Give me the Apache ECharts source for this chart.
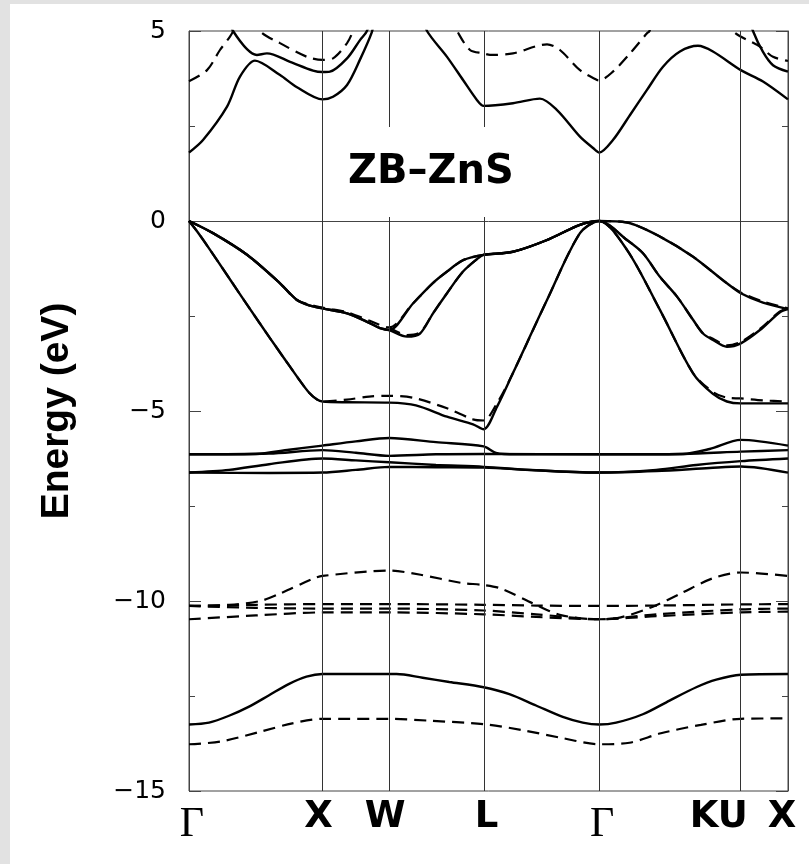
<!DOCTYPE html>
<html><head><meta charset="utf-8">
<script src="https://cdn.jsdelivr.net/npm/echarts@6/dist/echarts.min.js"></script>
<style>html,body{margin:0;padding:0;background:#fff}#c{width:809px;height:864px}</style>
</head><body><div id="c"></div>
<script>
// high-symmetry points (path length, units of 2π/a)
var kPoints = [0, 1, 1.5, 2.2071, 3.0731, 4.1338, 4.4874];
var kLabels = ['Γ', 'X', 'W', 'L', 'Γ', 'KU', 'X'];
var yTicks = [-15, -10, -5, 0, 5];

// ---- solid bands ----
var vbA = [[0,0],[0.18,-0.32],[0.435,-0.89],[0.682,-1.64],[0.809,-2.08],[0.9,-2.22],[1,-2.3],[1.184,-2.43],[1.35,-2.68],[1.431,-2.82],[1.5,-2.87],[1.678,-2.17],[1.825,-1.64],[1.933,-1.33],[2.053,-1.03],[2.207,-0.89],[2.427,-0.81],[2.682,-0.5],[2.929,-0.1],[3.073,0],[3.281,-0.04],[3.528,-0.41],[3.776,-0.94],[4.03,-1.64],[4.134,-1.9],[4.3,-2.15],[4.487,-2.32]];
var vbB = [[0,0],[0.18,-0.32],[0.435,-0.89],[0.682,-1.64],[0.809,-2.08],[0.9,-2.22],[1,-2.3],[1.184,-2.43],[1.35,-2.68],[1.431,-2.82],[1.5,-2.87],[1.633,-3.04],[1.731,-2.96],[1.828,-2.43],[1.933,-1.9],[2.053,-1.33],[2.18,-0.94],[2.207,-0.89],[2.427,-0.81],[2.682,-0.5],[2.929,-0.1],[3.073,0],[3.281,-0.5],[3.401,-0.85],[3.528,-1.47],[3.656,-1.99],[3.776,-2.6],[3.851,-2.96],[3.925,-3.13],[4.03,-3.31],[4.134,-3.22],[4.277,-2.87],[4.427,-2.4],[4.487,-2.32]];
var vbC = [[0,0],[0.06,-0.27],[0.15,-0.72],[0.3,-1.5],[0.45,-2.28],[0.6,-3.05],[0.72,-3.65],[0.82,-4.15],[0.9,-4.52],[0.96,-4.7],[1,-4.75],[1.184,-4.77],[1.5,-4.78],[1.7,-4.85],[1.933,-5.15],[2.128,-5.35],[2.207,-5.48],[2.307,-4.89],[2.427,-4.0],[2.682,-2.08],[2.929,-0.32],[3.073,0],[3.281,-0.76],[3.528,-2.34],[3.776,-4.01],[3.925,-4.55],[4.03,-4.75],[4.134,-4.8],[4.487,-4.8]];
var d1 = [[0,-6.14],[0.5,-6.13],[0.75,-6.02],[1,-5.91],[1.25,-5.8],[1.5,-5.71],[1.85,-5.82],[2.207,-5.93],[2.3,-6.1],[2.45,-6.14],[3.073,-6.14],[3.7,-6.13],[3.9,-6.0],[4.134,-5.76],[4.487,-5.91]];
var d2 = [[0,-6.14],[0.6,-6.12],[1,-6.03],[1.25,-6.1],[1.5,-6.18],[1.85,-6.14],[2.207,-6.13],[3.073,-6.14],[3.7,-6.13],[4.134,-6.07],[4.487,-6.03]];
var d3 = [[0,-6.62],[0.3,-6.55],[0.6,-6.4],[1,-6.25],[1.25,-6.3],[1.5,-6.35],[1.85,-6.42],[2.207,-6.47],[2.6,-6.56],[3.073,-6.62],[3.5,-6.55],[3.8,-6.42],[4.134,-6.32],[4.487,-6.25]];
var d4 = [[0,-6.62],[0.6,-6.63],[1,-6.62],[1.25,-6.55],[1.5,-6.47],[1.85,-6.48],[2.207,-6.49],[2.6,-6.56],[3.073,-6.62],[3.5,-6.58],[3.9,-6.5],[4.134,-6.46],[4.487,-6.62]];
var s1 = [[0,-13.25],[0.15,-13.2],[0.3,-13.02],[0.45,-12.78],[0.6,-12.48],[0.75,-12.18],[0.88,-11.99],[1,-11.92],[1.555,-11.92],[1.75,-12.02],[1.95,-12.13],[2.207,-12.27],[2.4,-12.45],[2.6,-12.75],[2.8,-13.05],[2.95,-13.2],[3.073,-13.25],[3.2,-13.2],[3.4,-12.98],[3.6,-12.62],[3.8,-12.27],[3.95,-12.07],[4.134,-11.94],[4.487,-11.92]];
var cbA = [[0,1.8],[0.105,2.13],[0.285,3.01],[0.382,3.8],[0.494,4.22],[0.682,3.84],[0.809,3.52],[1,3.2],[1.079,3.27],[1.184,3.58],[1.28,4.24],[1.37,4.97],[1.42,5.6],[1.72,5.6],[1.783,5.0],[1.933,4.32],[2.053,3.71],[2.158,3.18],[2.207,3.03],[2.427,3.1],[2.629,3.22],[2.757,2.92],[2.929,2.22],[3.027,1.92],[3.073,1.8],[3.176,2.13],[3.304,2.79],[3.431,3.45],[3.551,4.06],[3.678,4.46],[3.813,4.61],[3.925,4.46],[4.134,3.97],[4.3,3.67],[4.487,3.2]];
var cbB = [[0.3,5.5],[0.33,5.0],[0.509,4.37],[0.584,4.41],[0.757,4.19],[0.929,3.96],[1,3.92],[1.056,3.93],[1.184,4.28],[1.281,4.76],[1.333,5.0],[1.37,5.5]];
var cbC = [[4.17,5.6],[4.225,5.0],[4.3,4.45],[4.375,4.1],[4.487,3.93]];

// ---- dashed bands ----
var vbAd = [[0,0],[0.18,-0.32],[0.435,-0.89],[0.682,-1.64],[0.809,-2.08],[1,-2.28],[1.184,-2.4],[1.35,-2.62],[1.5,-2.8],[1.678,-2.17],[1.825,-1.64],[1.933,-1.33],[2.053,-1.03],[2.207,-0.89],[2.427,-0.81],[2.682,-0.5],[2.929,-0.1],[3.073,0],[3.281,-0.04],[3.528,-0.41],[3.776,-0.94],[4.03,-1.64],[4.134,-1.88],[4.3,-2.12],[4.487,-2.3]];
var vbBd = [[1.5,-2.8],[1.633,-3.0],[1.731,-2.93],[1.828,-2.43],[1.933,-1.9],[2.053,-1.33],[2.18,-0.94],[2.207,-0.89],[2.427,-0.81],[2.682,-0.5],[2.929,-0.1],[3.073,0],[3.281,-0.5],[3.401,-0.85],[3.528,-1.47],[3.656,-1.99],[3.776,-2.6],[3.851,-2.96],[3.925,-3.1],[4.03,-3.27],[4.134,-3.18],[4.277,-2.84],[4.427,-2.38],[4.487,-2.3]];
var vbCd = [[0,0],[0.06,-0.27],[0.15,-0.72],[0.3,-1.5],[0.45,-2.28],[0.6,-3.05],[0.72,-3.65],[0.82,-4.15],[0.9,-4.52],[0.96,-4.7],[1,-4.75],[1.184,-4.7],[1.35,-4.62],[1.5,-4.6],[1.678,-4.65],[1.933,-4.93],[2.128,-5.22],[2.207,-5.25],[2.307,-4.8],[2.427,-4.0],[2.682,-2.08],[2.929,-0.32],[3.073,0],[3.281,-0.76],[3.528,-2.34],[3.776,-4.0],[3.925,-4.5],[4.03,-4.65],[4.134,-4.67],[4.3,-4.72],[4.487,-4.75]];
var dd1 = [[0,-10.13],[0.3,-10.1],[0.534,-10.0],[0.684,-9.8],[0.924,-9.42],[1,-9.34],[1.5,-9.2],[1.735,-9.31],[2.035,-9.52],[2.207,-9.58],[2.335,-9.67],[2.575,-10.06],[2.785,-10.37],[3.073,-10.48],[3.235,-10.43],[3.475,-10.15],[3.685,-9.8],[3.925,-9.4],[4.134,-9.25],[4.487,-9.34]];
var dd2 = [[0,-10.13],[0.5,-10.1],[1,-10.08],[1.5,-10.08],[2.207,-10.1],[2.6,-10.12],[3.073,-10.13],[3.5,-10.12],[4.134,-10.09],[4.487,-10.08]];
var dd3 = [[0,-10.13],[0.5,-10.18],[1,-10.2],[1.5,-10.2],[2.207,-10.25],[2.6,-10.35],[3.073,-10.48],[3.5,-10.35],[4.134,-10.22],[4.487,-10.2]];
var dd4 = [[0,-10.48],[0.5,-10.38],[1,-10.3],[1.5,-10.3],[2.207,-10.35],[2.6,-10.42],[3.073,-10.48],[3.5,-10.4],[4.134,-10.3],[4.487,-10.28]];
var s1d = [[0,-13.77],[0.234,-13.7],[0.534,-13.44],[0.774,-13.22],[1,-13.1],[1.5,-13.1],[1.8,-13.15],[2.207,-13.24],[2.5,-13.4],[2.8,-13.61],[3.073,-13.77],[3.3,-13.73],[3.535,-13.48],[3.835,-13.26],[4.134,-13.1],[4.487,-13.09]];
var cbAd = [[0,3.68],[0.135,3.97],[0.232,4.5],[0.307,4.85],[0.33,5.0],[0.36,5.4]];
var cbBd = [[0.5,5.4],[0.532,5.0],[0.682,4.68],[0.884,4.32],[1,4.24],[1.079,4.28],[1.184,4.68],[1.229,5.0],[1.27,5.4]];
var cbCd = [[1.95,5.4],[2.008,5.0],[2.105,4.5],[2.207,4.41],[2.255,4.37],[2.427,4.41],[2.682,4.65],[2.779,4.5],[2.929,3.97],[3.057,3.71],[3.073,3.7],[3.176,3.93],[3.304,4.41],[3.431,4.94],[3.45,5.0],[3.48,5.4]];
var cbDd = [[4.05,5.4],[4.075,5.0],[4.277,4.59],[4.375,4.32],[4.487,4.21]];

var solidBands = [vbA, vbB, vbC, d1, d2, d3, d4, s1, cbA, cbB, cbC];
var dashedBands = [vbAd, vbBd, vbCd, dd1, dd2, dd3, dd4, s1d, cbAd, cbBd, cbCd, cbDd];

var labelShift = [3, -4, -4, 3, 3, -22, -6];

var rich = {};
kLabels.forEach(function (t, i) {
  var s = labelShift[i];
  var pad = s < 0 ? [0, -2 * s, 0, 0] : [0, 0, 0, 2 * s];
  if (t === 'Γ') {
    rich['l' + i] = {fontFamily: 'Liberation Serif', fontSize: 42, color: '#000', padding: [5, pad[1], 0, pad[3]]};
  } else {
    rich['l' + i] = {fontFamily: 'DejaVu Sans', fontWeight: 'bold', fontSize: 37, color: '#000', padding: pad};
  }
});

var series = [];
solidBands.forEach(function (b) {
  series.push({type: 'line', data: b, smooth: 0.3, symbol: 'none', clip: true, z: 3,
    lineStyle: {color: '#000', width: 2.4, type: 'solid'}});
});
dashedBands.forEach(function (b) {
  series.push({type: 'line', data: b, smooth: 0.3, symbol: 'none', clip: true, z: 3,
    lineStyle: {color: '#000', width: 2.2, type: [12, 7]}});
});
series.push({type: 'line', data: [], symbol: 'none', z: 1,
  markLine: {symbol: 'none', silent: true, label: {show: false},
    lineStyle: {color: '#333', width: 1, type: 'solid'},
    data: kPoints.slice(1, -1).map(function (k) { return {xAxis: k}; })}});

var yAxisBase = {type: 'value', min: -15, max: 5, interval: 5,
  axisLine: {show: true, lineStyle: {color: '#444', width: 1}},
  axisTick: {show: true, inside: true, length: 12, lineStyle: {color: '#444'}},
  minorTick: {show: true, splitNumber: 2, length: 6, lineStyle: {color: '#444'}},
  splitLine: {show: false}};

var chart = echarts.init(document.getElementById('c'));
chart.setOption({
  animation: false,
  backgroundColor: '#fff',
  grid: {left: 189, top: 31, width: 599, height: 760, show: true, borderColor: '#444', borderWidth: 1, backgroundColor: 'transparent'},
  xAxis: {type: 'value', min: 0, max: kPoints[kPoints.length - 1],
    axisLine: {show: true, lineStyle: {color: '#444'}},
    axisTick: {show: false}, splitLine: {show: false},
    axisLabel: {customValues: kPoints, margin: 8,
      formatter: function (v) {
        var best = 0;
        for (var i = 0; i < kPoints.length; i++) if (Math.abs(kPoints[i] - v) < Math.abs(kPoints[best] - v)) best = i;
        return '{l' + best + '|' + kLabels[best] + '}';
      }, rich: rich}},
  yAxis: [
    Object.assign({}, yAxisBase, {position: 'left',
      name: 'Energy (eV)', nameLocation: 'middle', nameGap: 112,
      nameTextStyle: {fontFamily: 'Liberation Sans', fontWeight: 'bold', fontSize: 39, color: '#000'},
      axisLabel: {show: true, margin: 23, fontFamily: 'DejaVu Sans', fontSize: 25, color: '#000',
        customValues: yTicks,
        formatter: function (v) { return v < 0 ? '\u2212' + Math.abs(v) : String(v); }}}),
    Object.assign({}, yAxisBase, {position: 'right', axisLabel: {show: false}})
  ],
  graphic: [
    {type: 'rect', z: 100, shape: {x: 0, y: 0, width: 10, height: 864}, style: {fill: '#e2e2e2'}},
    {type: 'rect', z: 100, shape: {x: 0, y: 0, width: 809, height: 4}, style: {fill: '#e2e2e2'}},
    {type: 'rect', z: 50, shape: {x: 340, y: 127, width: 180, height: 90}, style: {fill: '#fff'}},
    {type: 'text', z: 51, x: 431, y: 173, style: {text: 'ZB\u2013ZnS', fill: '#000', font: 'bold 40px "DejaVu Sans"', textAlign: 'center', textVerticalAlign: 'middle'}}
  ],
  series: series
});
</script></body></html>
